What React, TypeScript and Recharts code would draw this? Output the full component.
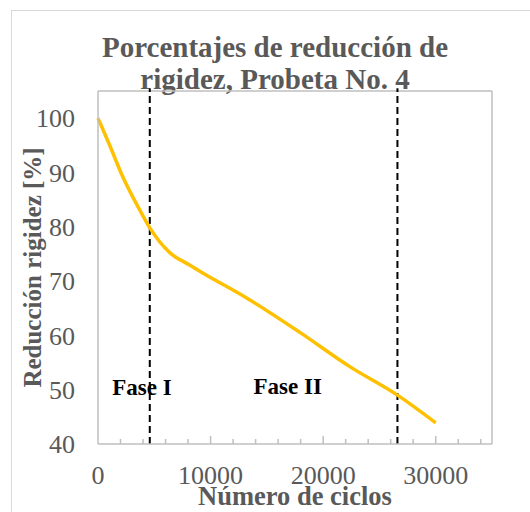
import React from 'react';
import { LineChart, Line, XAxis, YAxis, ReferenceLine, ReferenceDot, Label } from 'recharts';

const cycles = [0, 1000, 2200, 3700, 4600, 6400, 8100, 9300, 13200, 17900, 22400, 26600, 30000];
const rigidez = [100, 95.2, 89.2, 83.1, 79.8, 75.2, 73.0, 71.5, 66.9, 60.6, 54.2, 49.0, 43.9];
const xTicks = [0, 2000, 4000, 6000, 8000, 10000, 12000, 14000, 16000, 18000, 20000, 22000, 24000, 26000, 28000, 30000, 32000, 34000];
const xLabels = [0, 10000, 20000, 30000];
const yTicks = [40, 50, 60, 70, 80, 90, 100];
const phaseBounds = [4600, 26600];
const phaseNames = ['Fase I', 'Fase II'];
const phaseX = [3900, 16850];
const phaseY = [50.5, 50.8];
const xMax = 35000;
const yMax = 105;

const data = cycles.map((c, i) => ({ c, r: rigidez[i] }));

const FONT = '"Liberation Serif", "Times New Roman", serif';
const GRAY = '#595959';
const AXIS = '#bfbfbf';

const XTick = (props: any) => {
  const { x, y, payload } = props;
  const v = payload.value;
  const major = v % 10000 === 0;
  return (
    <g>
      {v !== 0 && (
        <line x1={x} x2={x} y1={y} y2={y - (major ? 8 : 5)} stroke={AXIS} strokeWidth={1.5} />
      )}
      {xLabels.includes(v) && (
        <text x={x} y={y + 31} textAnchor="middle" dominantBaseline="central" fill={GRAY} fontSize={26} fontFamily={FONT}>
          {v}
        </text>
      )}
    </g>
  );
};

export default function App() {
  return (
    <div style={{ position: 'absolute', left: 0, top: 0, width: 530, height: 512, overflow: 'hidden', background: '#fff', fontFamily: FONT }}>
      <div style={{ position: 'absolute', left: 11, top: 10, width: 600, height: 600, border: '1px solid #d9d9d9' }} />
      <div style={{ position: 'absolute', left: 11, top: 31, width: 528, textAlign: 'center', fontWeight: 'bold', fontSize: 29, lineHeight: '32px', color: GRAY }}>
        Porcentajes de reducción de<br />rigidez, Probeta No. 4
      </div>
      <div style={{ position: 'absolute', left: 0, top: 0 }}>
        <LineChart width={530} height={512} data={data} margin={{ top: 91, right: 38, bottom: 0, left: 0 }}>
          <XAxis
            dataKey="c"
            type="number"
            domain={[0, xMax]}
            ticks={xTicks}
            interval={0}
            tickSize={0}
            tickMargin={0}
            tick={<XTick />}
            tickLine={false}
            axisLine={{ stroke: AXIS, strokeWidth: 1.5 }}
            height={68}
          >
            <Label
              content={(p: any) => {
                const vb = p.viewBox;
                return (
                  <text x={vb.x + vb.width / 2} y={505} textAnchor="middle" fill={GRAY} fontSize={26.5} fontWeight="bold" fontFamily={FONT}>
                    Número de ciclos
                  </text>
                );
              }}
            />
          </XAxis>
          <YAxis
            type="number"
            domain={[40, yMax]}
            ticks={yTicks}
            interval={0}
            width={98}
            tickSize={0}
            tickMargin={23}
            tickLine={false}
            axisLine={{ stroke: AXIS, strokeWidth: 1.5 }}
            tick={{ fill: GRAY, fontSize: 26, fontFamily: FONT }}
          >
            <Label
              content={(p: any) => {
                const vb = p.viewBox;
                const cy = vb.y + vb.height / 2;
                return (
                  <text x={32} y={cy} transform={`rotate(-90 32 ${cy})`} textAnchor="middle" dominantBaseline="central" fill={GRAY} fontSize={25} fontWeight="bold" fontFamily={FONT}>
                    Reducción rigidez [%]
                  </text>
                );
              }}
            />
          </YAxis>
          <ReferenceLine y={yMax} stroke={AXIS} strokeWidth={1.5} />
          <ReferenceLine x={xMax} stroke={AXIS} strokeWidth={1.5} />
          {phaseBounds.map((b) => (
            <ReferenceLine
              key={b}
              segment={[{ x: b, y: 40 }, { x: b, y: 105.5 }]}
              ifOverflow="visible"
              stroke="#000"
              strokeWidth={2}
              strokeDasharray="7 4"
            />
          ))}
          <Line type="monotone" dataKey="r" stroke="#FFC000" strokeWidth={3.5} dot={false} isAnimationActive={false} />
          {phaseNames.map((n, i) => (
            <ReferenceDot
              key={n}
              x={phaseX[i]}
              y={phaseY[i]}
              r={0}
              fill="none"
              stroke="none"
              ifOverflow="visible"
              label={{ value: n, position: 'center', fill: '#000', fontSize: 23, fontWeight: 'bold', fontFamily: FONT }}
            />
          ))}
        </LineChart>
      </div>
    </div>
  );
}
